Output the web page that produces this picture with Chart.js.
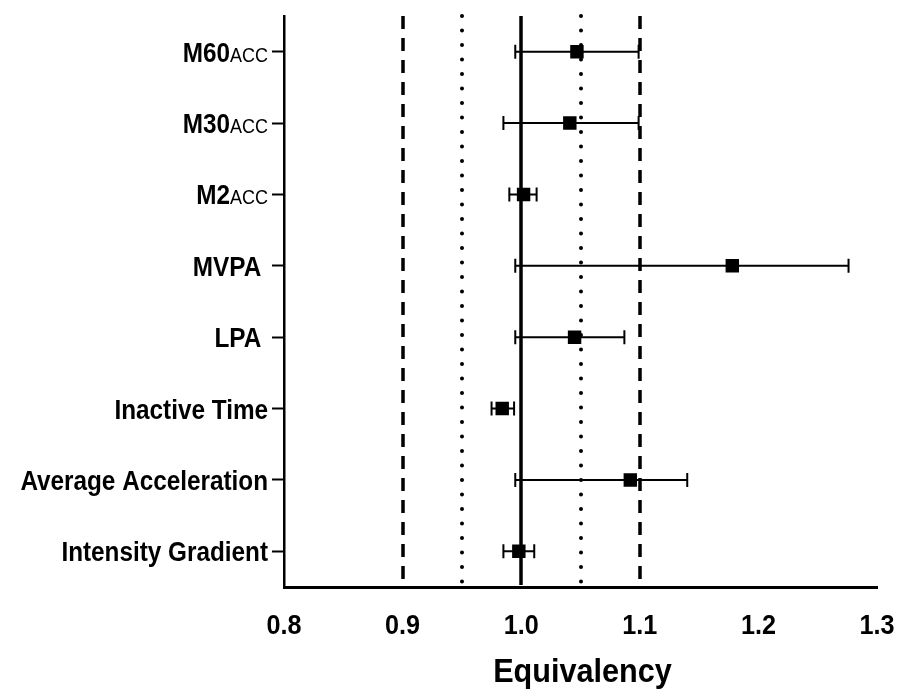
<!DOCTYPE html>
<html>
<head>
<meta charset="utf-8">
<script src="https://cdn.jsdelivr.net/npm/chart.js@4.4.0/dist/chart.umd.min.js"></script>
<style>
  html, body { margin: 0; padding: 0; background: #fff; }
  #wrap { width: 899px; height: 695px; }
</style>
</head>
<body>
<div id="wrap"><canvas id="forest"></canvas></div>
<script>
// outcomes, top to bottom
const categories = ['M60', 'M30', 'M2', 'MVPA ', 'LPA ', 'Inactive Time', 'Average Acceleration', 'Intensity Gradient'];
const subscripts = ['ACC', 'ACC', 'ACC', '', '', '', '', ''];
// ratio estimate and 90% CI
const estimate = [1.047, 1.041, 1.002, 1.178, 1.045, 0.984, 1.092, 0.998];
const lower = [0.995, 0.985, 0.990, 0.995, 0.995, 0.975, 0.995, 0.985];
const upper = [1.099, 1.099, 1.013, 1.276, 1.087, 0.994, 1.140, 1.011];
const xTicks = [0.8, 0.9, 1.0, 1.1, 1.2, 1.3];
const xTitle = 'Equivalency';
// reference lines
const nullValue = 1.0;
const outerBounds = [0.9, 1.1];
const innerBounds = [0.95, 1.05];

// no narrow font installed, so squeeze Liberation Sans horizontally
const FONT = "'Liberation Sans', Arial, sans-serif";
const SQUEEZE = 0.9;

const points = categories.map((c, i) => ({ x: estimate[i], y: c }));

function squeezedText(ctx, text, xr, base, align) {
  ctx.save();
  ctx.translate(xr, base);
  ctx.scale(SQUEEZE, 1);
  ctx.textAlign = align;
  ctx.fillText(text, 0, 0);
  ctx.restore();
}

// vertical equivalence lines + whiskers, drawn under the squares
const refAndBars = {
  id: 'refAndBars',
  beforeDatasetsDraw(chart) {
    const { ctx, chartArea, scales: { x, y } } = chart;
    ctx.save();
    ctx.strokeStyle = '#000';

    const vline = (v, width, dash, cap) => {
      const px = Math.round(x.getPixelForValue(v));
      ctx.lineWidth = width;
      ctx.setLineDash(dash);
      ctx.lineCap = cap;
      ctx.beginPath();
      ctx.moveTo(px, chartArea.top);
      ctx.lineTo(px, chartArea.bottom - 2);
      ctx.stroke();
    };
    outerBounds.forEach(v => vline(v, 3.5, [13, 9], 'butt'));
    innerBounds.forEach(v => vline(v, 4, [0, 14.5], 'round'));
    vline(nullValue, 3.5, [], 'butt');

    ctx.setLineDash([]);
    ctx.lineCap = 'butt';
    ctx.lineWidth = 2;
    categories.forEach((c, i) => {
      const py = y.getPixelForValue(i);
      const x0 = x.getPixelForValue(lower[i]);
      const x1 = x.getPixelForValue(upper[i]);
      ctx.beginPath();
      ctx.moveTo(x0, py); ctx.lineTo(x1, py);
      ctx.moveTo(x0, py - 7); ctx.lineTo(x0, py + 7);
      ctx.moveTo(x1, py - 7); ctx.lineTo(x1, py + 7);
      ctx.stroke();
    });
    ctx.restore();
  }
};

// axis texts (y labels with the small "ACC" part, x ticks, x title)
const axisText = {
  id: 'axisText',
  afterDraw(chart) {
    const { ctx, chartArea, scales: { x, y } } = chart;
    ctx.save();
    ctx.fillStyle = '#000';
    ctx.textBaseline = 'alphabetic';

    const right = y.right - 16;
    categories.forEach((c, i) => {
      const base = y.getPixelForValue(i) + 10;
      let xr = right;
      if (subscripts[i]) {
        ctx.font = '20px ' + FONT;
        squeezedText(ctx, subscripts[i], xr, base, 'right');
        xr -= ctx.measureText(subscripts[i]).width * SQUEEZE;
      }
      ctx.font = 'bold 27px ' + FONT;
      squeezedText(ctx, c, xr, base, 'right');
    });

    ctx.font = 'bold 28px ' + FONT;
    xTicks.forEach(v => {
      squeezedText(ctx, v.toFixed(1), x.getPixelForValue(v), chartArea.bottom + 47, 'center');
    });

    ctx.font = 'bold 34px ' + FONT;
    squeezedText(ctx, xTitle, (chartArea.left + chartArea.right) / 2 + 2, chartArea.bottom + 95, 'center');
    ctx.restore();
  }
};

new Chart(document.getElementById('forest'), {
  type: 'scatter',
  data: {
    datasets: [{
      data: points,
      pointStyle: 'rect',
      pointRadius: 9.5,
      pointHoverRadius: 9.5,
      backgroundColor: '#000',
      borderColor: '#000',
      borderWidth: 0
    }]
  },
  options: {
    responsive: true,
    maintainAspectRatio: false,
    animation: false,
    events: [],
    layout: { padding: { top: 16, right: 22, left: 0, bottom: 0 } },
    plugins: { legend: { display: false }, tooltip: { enabled: false } },
    scales: {
      x: {
        type: 'linear',
        min: xTicks[0],
        max: xTicks[xTicks.length - 1],
        afterBuildTicks: s => { s.ticks = xTicks.map(v => ({ value: v })); },
        afterFit: s => { s.height = 108; },
        grid: { display: false },
        border: { display: true, color: '#000', width: 3 },
        ticks: { display: false }
      },
      y: {
        type: 'category',
        labels: categories,
        offset: true,
        afterFit: s => { s.width = 284; },
        grid: {
          display: true,
          offset: false,
          drawOnChartArea: false,
          drawTicks: true,
          tickLength: 12,
          tickWidth: 2,
          tickColor: '#000'
        },
        border: { display: true, color: '#000', width: 2.5 },
        ticks: { display: false }
      }
    }
  },
  plugins: [refAndBars, axisText]
});
</script>
</body>
</html>
